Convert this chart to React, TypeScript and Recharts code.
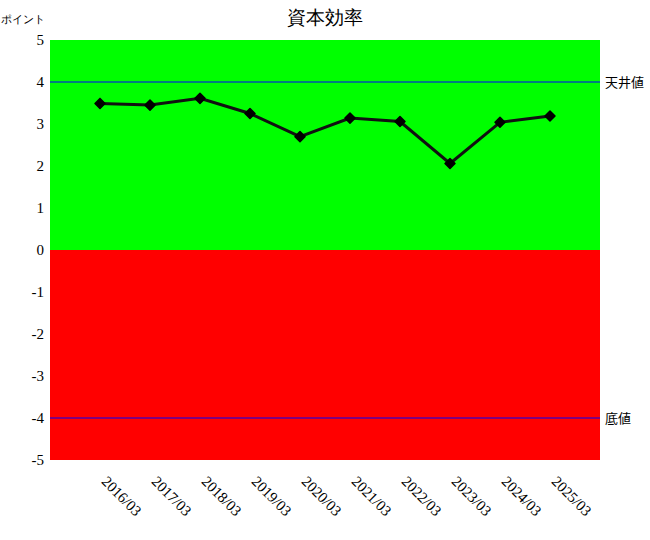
import {
  LineChart,
  Line,
  XAxis,
  YAxis,
  ReferenceArea,
  ReferenceLine,
} from "recharts";

const periods = [
  "2016/03",
  "2017/03",
  "2018/03",
  "2019/03",
  "2020/03",
  "2021/03",
  "2022/03",
  "2023/03",
  "2024/03",
  "2025/03",
];
const points = [3.49, 3.45, 3.61, 3.25, 2.7, 3.14, 3.06, 2.06, 3.04, 3.19];
const yTicks = [-5, -4, -3, -2, -1, 0, 1, 2, 3, 4, 5];
const ceiling = 4;
const floor = -4;

// x positions are slot numbers 1..10 on a 0..11 axis
const data = periods.map((p, i) => ({ slot: i + 1, period: p, value: points[i] }));
const xTicks = data.map((d) => d.slot);

const serif = "Times New Roman, Liberation Serif, DejaVu Serif, serif";
const sans = "Noto Sans CJK JP, Noto Sans, sans-serif";

function RotatedTick(props: any) {
  const { x, y, payload } = props;
  const tx = x + 8;
  const ty = y + 5;
  return (
    <text
      x={tx}
      y={ty}
      transform={`rotate(45, ${tx}, ${ty})`}
      textAnchor="start"
      dominantBaseline="hanging"
      style={{ fontFamily: serif, fontSize: 15 }}
      fill="#000"
    >
      {periods[payload.value - 1]}
    </text>
  );
}

function Diamond(props: any) {
  const { cx, cy } = props;
  if (cx == null || cy == null) return null;
  const s = 5;
  return (
    <path
      d={`M${cx},${cy - s} L${cx + s},${cy} L${cx},${cy + s} L${cx - s},${cy} Z`}
      fill="#000"
      stroke="#000"
      strokeWidth={1.5}
      strokeLinejoin="round"
    />
  );
}

export default function App() {
  return (
    <div
      style={{
        position: "absolute",
        left: 0,
        top: 0,
        width: 650,
        height: 540,
        background: "#fff",
      }}
    >
      <div
        style={{
          position: "absolute",
          left: 0,
          right: 0,
          top: 5,
          textAlign: "center",
          fontSize: 19,
          fontFamily: serif,
        }}
      >
        資本効率
      </div>
      <div
        style={{
          position: "absolute",
          left: 1,
          top: 12,
          fontSize: 11,
          fontFamily: serif,
        }}
      >
        ポイント
      </div>
      <LineChart
        width={650}
        height={540}
        data={data}
        margin={{ top: 40, right: 50, left: 0, bottom: 0 }}
      >
        <XAxis
          dataKey="slot"
          type="number"
          domain={[0, 11]}
          ticks={xTicks}
          axisLine={false}
          tickLine={false}
          height={80}
          interval={0}
          tick={<RotatedTick />}
          tickSize={8}
        />
        <YAxis
          domain={[-5, 5]}
          ticks={yTicks}
          width={50}
          axisLine={false}
          tickLine={false}
          tickSize={4}
          tick={{ fill: "#000", fontSize: 15, style: { fontFamily: serif } }}
        />
        <ReferenceArea y1={0} y2={5} fill="#00ff00" fillOpacity={1} strokeOpacity={0} />
        <ReferenceArea y1={-5} y2={0} fill="#ff0000" fillOpacity={1} strokeOpacity={0} />
        <ReferenceLine
          y={ceiling}
          stroke="#0000ff"
          strokeWidth={1.2}
          label={{ value: "天井値", position: "right", fill: "#000", fontSize: 13, fontFamily: sans }}
        />
        <ReferenceLine
          y={floor}
          stroke="#0000ff"
          strokeWidth={1.2}
          label={{ value: "底値", position: "right", fill: "#000", fontSize: 13, fontFamily: sans }}
        />
        <Line
          dataKey="value"
          type="linear"
          stroke="#111"
          strokeWidth={3}
          dot={<Diamond />}
          activeDot={false}
          isAnimationActive={false}
        />
      </LineChart>
    </div>
  );
}
